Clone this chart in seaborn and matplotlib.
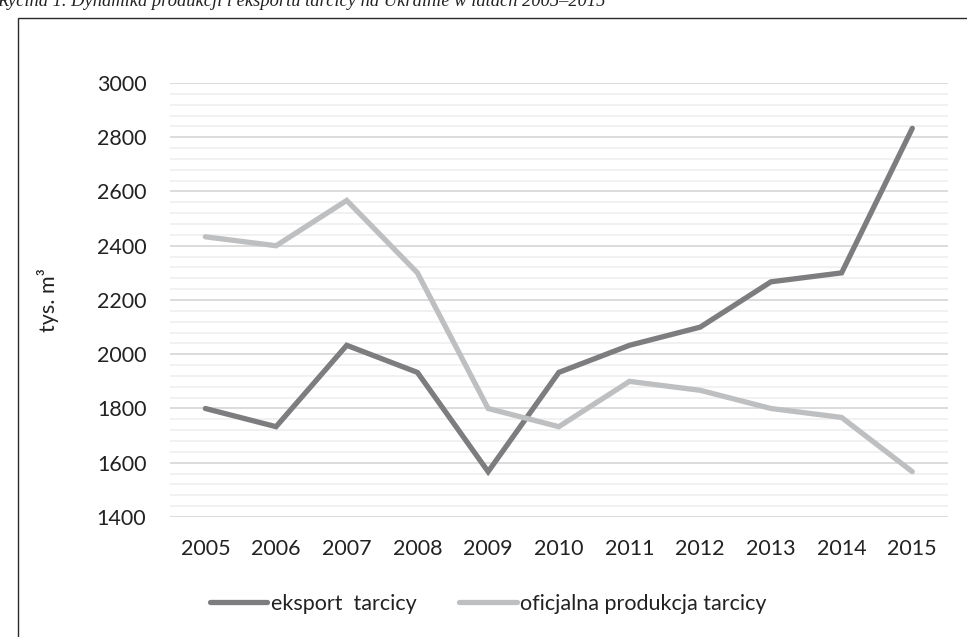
import matplotlib.pyplot as plt
import matplotlib.patches as mpatches
import seaborn as sns
import pandas as pd

# data (tys. m3)
years = [2005, 2006, 2007, 2008, 2009, 2010, 2011, 2012, 2013, 2014, 2015]
eksport = [1800, 1733, 2033, 1933, 1567, 1933, 2033, 2100, 2267, 2300, 2833]
produkcja = [2433, 2400, 2567, 2300, 1800, 1733, 1900, 1867, 1800, 1767, 1567]
series_names = ["eksport  tarcicy", "oficjalna produkcja tarcicy"]
y_ticks = [1400, 1600, 1800, 2000, 2200, 2400, 2600, 2800, 3000]

sns.set_style("white")
plt.rcParams["font.family"] = ["Lato", "DejaVu Sans"]

df = pd.DataFrame({
    "rok": years * 2,
    "wartosc": eksport + produkcja,
    "seria": [series_names[0]] * len(years) + [series_names[1]] * len(years),
})

fig = plt.figure(figsize=(9.67, 6.37), dpi=100)
ax = fig.add_axes([0.1758, 0.1884, 0.8042, 0.6813])

# outer frame (cut off at right and bottom like the scan)
fig.patches.append(mpatches.Rectangle((18 / 967, -0.05), 1.0, 1 - 18 / 637 + 0.05,
                                      transform=fig.transFigure, fill=False,
                                      edgecolor="#2a2a2a", linewidth=1.0))

# caption, cut off at the top as in the scan
fig.text(-0.003, 0.998, "Rycina 1. Dynamika produkcji i eksportu tarcicy na Ukrainie w latach 2005–2015",
         family="Liberation Serif", style="italic", size=13.3, va="center", ha="left", color="#222222")

# grid
for v in range(1400, 3001, 40):
    major = v % 200 == 0
    ax.axhline(v, color="#d9d9d9" if major else "#efefef", lw=1.3 if major else 1.2, zorder=0)

sns.lineplot(data=df, x="rok", y="wartosc", hue="seria", ax=ax,
             palette=["#7d7d80", "#bebfc1"], linewidth=3.8, legend=False)
for line in ax.lines[-2:]:
    line.set_solid_capstyle("round")
    line.set_solid_joinstyle("miter")

ax.set_xlim(2004.5, 2015.5)
ax.set_ylim(1400, 3000)
ax.set_xticks(years)
ax.set_xticklabels([str(y) for y in years], size=15.5, color="#222222")
ax.set_yticks(y_ticks)
ax.set_yticklabels([str(v) for v in y_ticks], size=15.5, color="#222222")
ax.tick_params(axis="x", length=0, pad=16)
ax.tick_params(axis="y", length=0, pad=17)
ax.set_xlabel("")
ax.set_ylabel("tys. m³", size=15.5, color="#222222", labelpad=27)
for s in ax.spines.values():
    s.set_visible(False)

handles = [plt.Line2D([], [], color="#7d7d80", lw=3.8, solid_capstyle="round"),
           plt.Line2D([], [], color="#bebfc1", lw=3.8, solid_capstyle="round")]
fig.legend(handles, series_names, loc="center", bbox_to_anchor=(0.505, 0.052), ncol=2,
           frameon=False, fontsize=15.5, handlelength=2.65, handletextpad=0.15,
           columnspacing=2.0, labelcolor="#222222")

fig.savefig("out.png", dpi=100)
